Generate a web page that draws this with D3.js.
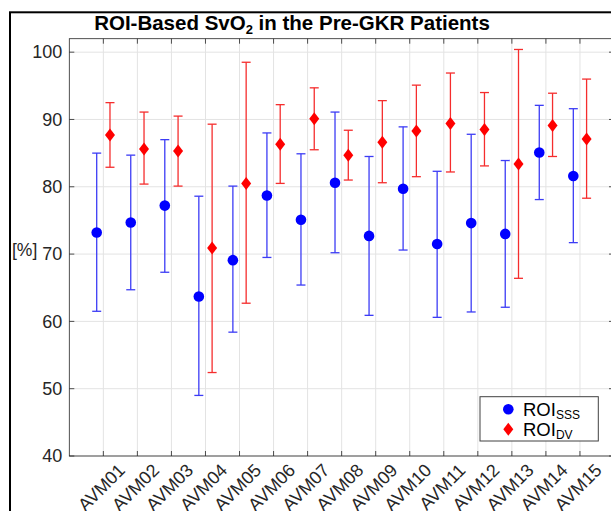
<!DOCTYPE html>
<html>
<head>
<meta charset="utf-8">
<script src="https://cdn.jsdelivr.net/npm/d3@7"></script>
<style>
  html, body { margin: 0; padding: 0; background: #fff; }
  svg { display: block; font-family: "Liberation Sans", Arial, Helvetica, sans-serif; }
</style>
</head>
<body>
<svg id="chart" width="611" height="511"></svg>
<script>
// ---- Data ----
const categories = ["AVM01","AVM02","AVM03","AVM04","AVM05","AVM06","AVM07","AVM08","AVM09","AVM10","AVM11","AVM12","AVM13","AVM14","AVM15"];
const sssMean  = [73.2, 74.7, 77.2, 63.7, 69.1, 78.7, 75.1, 80.6, 72.7, 79.7, 71.5, 74.6, 73.0, 85.1, 81.6];
const sssUpper = [85.0, 84.7, 87.0, 78.6, 80.1, 88.0, 84.9, 91.1, 84.5, 88.9, 82.3, 87.8, 83.9, 92.1, 91.6];
const sssLower = [61.5, 64.7, 67.3, 49.0, 58.4, 69.5, 65.4, 70.2, 60.9, 70.6, 60.6, 61.4, 62.1, 78.1, 71.7];
const dvMean   = [87.7, 85.6, 85.3, 70.9, 80.5, 86.3, 90.1, 84.7, 86.6, 88.3, 89.4, 88.5, 83.4, 89.1, 87.1];
const dvUpper  = [92.5, 91.1, 90.5, 89.3, 98.5, 92.2, 94.7, 88.4, 92.8, 95.1, 96.9, 94.0, 100.4, 93.9, 96.0];
const dvLower  = [82.9, 80.4, 80.1, 52.4, 62.7, 80.5, 85.5, 81.0, 80.6, 81.5, 82.2, 83.1, 66.4, 84.5, 78.3];
const yTicks = [40, 50, 60, 70, 80, 90, 100];

// ---- Layout ----
const svg = d3.select("#chart");
const pL = 69.3, pR = 614, pT = 38.7, pB = 456;
const x = d3.scaleLinear().domain([0, 16]).range([pL, pR]);
const y = d3.scaleLinear().domain([40, 102]).range([pB, pT]);
const off = 0.195;
const blue = "#0000ff", red = "#ff0000";
const blueBar = "#3c3cf5", redBar = "#f52d2d";

// outer figure border
svg.append("rect").attr("x", 10).attr("y", 12.3).attr("width", 640).attr("height", 520)
  .attr("fill", "none").attr("stroke", "#000").attr("stroke-width", 2);

// grid
const g = svg.append("g");
g.selectAll(".gy").data(yTicks).join("line")
  .attr("x1", pL).attr("x2", pR).attr("y1", d => y(d)).attr("y2", d => y(d))
  .attr("stroke", "#e3e3e3").attr("stroke-width", 1);
g.selectAll(".gx").data(categories).join("line")
  .attr("x1", (d, i) => x(i + 1)).attr("x2", (d, i) => x(i + 1))
  .attr("y1", pT).attr("y2", pB)
  .attr("stroke", "#e3e3e3").attr("stroke-width", 1);

// axes
const xAxis = d3.axisBottom(x).tickValues(d3.range(1, 16)).tickSize(0).tickFormat((d) => categories[d - 1]);
const yAxis = d3.axisLeft(y).tickValues(yTicks).tickSize(0).tickPadding(7);

const ax = svg.append("g").attr("transform", `translate(0,${pB})`).call(xAxis);
ax.select(".domain").remove();
ax.selectAll("text")
  .attr("font-size", 18).attr("fill", "#262626")
  .attr("text-anchor", "end")
  .attr("dy", null).attr("y", null)
  .attr("transform", "translate(19,12) rotate(-45)")
  .attr("dominant-baseline", "middle");

const ay = svg.append("g").attr("transform", `translate(${pL},0)`).call(yAxis);
ay.select(".domain").remove();
ay.selectAll("text").attr("font-size", 18).attr("fill", "#262626");

// box
svg.append("rect").attr("x", pL).attr("y", pT).attr("width", pR - pL).attr("height", pB - pT)
  .attr("fill", "none").attr("stroke", "#262626").attr("stroke-width", 0.8);

// inward ticks
const tk = svg.append("g").attr("stroke", "#262626").attr("stroke-width", 0.8);
d3.range(1, 16).forEach(i => {
  tk.append("line").attr("x1", x(i)).attr("x2", x(i)).attr("y1", pB).attr("y2", pB - 5);
  tk.append("line").attr("x1", x(i)).attr("x2", x(i)).attr("y1", pT).attr("y2", pT + 5);
});
yTicks.forEach(v => {
  tk.append("line").attr("x1", pL).attr("x2", pL + 5).attr("y1", y(v)).attr("y2", y(v));
  tk.append("line").attr("x1", pR).attr("x2", pR - 5).attr("y1", y(v)).attr("y2", y(v));
});

// error bars
function errorBars(means, lo, hi, dx, color) {
  const eg = svg.append("g").attr("stroke", color).attr("stroke-width", 1.3).attr("fill", "none");
  means.forEach((m, i) => {
    const cx = x(i + 1 + dx);
    eg.append("line").attr("x1", cx).attr("x2", cx).attr("y1", y(lo[i])).attr("y2", y(hi[i]));
    eg.append("line").attr("x1", cx - 4.5).attr("x2", cx + 4.5).attr("y1", y(lo[i])).attr("y2", y(lo[i]));
    eg.append("line").attr("x1", cx - 4.5).attr("x2", cx + 4.5).attr("y1", y(hi[i])).attr("y2", y(hi[i]));
  });
}
errorBars(sssMean, sssLower, sssUpper, -off, blueBar);
errorBars(dvMean, dvLower, dvUpper, off, redBar);

const diamond = "M0,-6.5L5,0L0,6.5L-5,0Z";
svg.append("g").selectAll("circle").data(sssMean).join("circle")
  .attr("cx", (d, i) => x(i + 1 - off)).attr("cy", d => y(d)).attr("r", 5.3).attr("fill", blue);
svg.append("g").selectAll("path").data(dvMean).join("path")
  .attr("d", diamond)
  .attr("transform", (d, i) => `translate(${x(i + 1 + off)},${y(d)})`).attr("fill", red);

// title
const title = svg.append("text").attr("x", 292).attr("y", 30).attr("text-anchor", "middle")
  .attr("font-size", 20.5).attr("font-weight", "bold").attr("fill", "#000");
title.append("tspan").text("ROI-Based SvO");
title.append("tspan").text("2").attr("font-size", 13).attr("dy", 4);
title.append("tspan").text(" in the Pre-GKR Patients").attr("dy", -4);

// y label
svg.append("text").attr("x", 12).attr("y", 255.5).attr("font-size", 17.5).attr("fill", "#262626").text("[%]");

// legend
const lg = svg.append("g");
lg.append("rect").attr("x", 480).attr("y", 396.7).attr("width", 118.3).attr("height", 44.3)
  .attr("fill", "#fff").attr("stroke", "#404040").attr("stroke-width", 1);
lg.append("circle").attr("cx", 508.3).attr("cy", 409.3).attr("r", 5.3).attr("fill", blue);
lg.append("path").attr("d", diamond).attr("transform", "translate(508.3,429.3)").attr("fill", red);
const t1 = lg.append("text").attr("x", 523).attr("y", 415.5).attr("font-size", 18.5).attr("fill", "#000");
t1.append("tspan").text("ROI");
t1.append("tspan").text("SSS").attr("font-size", 12).attr("dy", 3);
const t2 = lg.append("text").attr("x", 523).attr("y", 435.5).attr("font-size", 18.5).attr("fill", "#000");
t2.append("tspan").text("ROI");
t2.append("tspan").text("DV").attr("font-size", 12).attr("dy", 3);
</script>
</body>
</html>
